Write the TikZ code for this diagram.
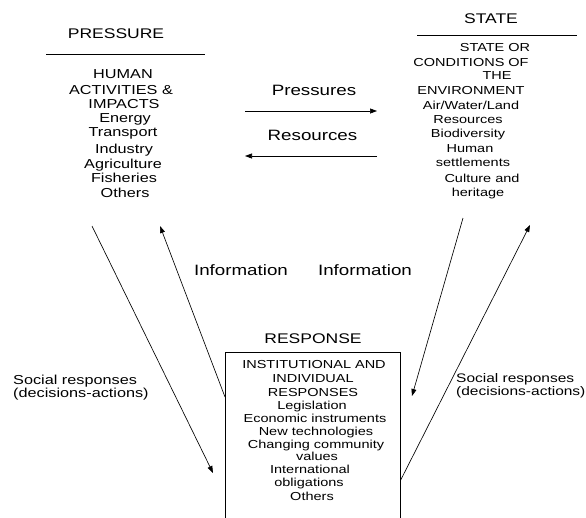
\documentclass[tikz,border=0pt]{standalone}
\usepackage{fontspec}
\setmainfont{Liberation Sans}[FakeStretch=1.25]
\usetikzlibrary{arrows.meta}
\begin{document}
\begin{tikzpicture}[x=1pt,y=-1pt,
  every node/.style={inner sep=0pt, anchor=mid},
  title/.style={font=\fontsize{14}{16}\selectfont},
  blk/.style={font=\fontsize{13}{15}\selectfont},
  sblk/.style={font=\fontsize{11.6}{14}\selectfont},
  lbl/.style={font=\fontsize{15}{17}\selectfont},
  soc/.style={font=\fontsize{13}{13.5}\selectfont, align=left, anchor=west},
  link/.style={line width=0.65pt, -{Triangle[length=7pt,width=5pt]}},
  rule/.style={line width=0.7pt}]
\useasboundingbox (0,0) rectangle (586,517);
\clip (0,0) rectangle (586,517);

% --- titles and their rules
\node[title] (ptitle) at (116,36) {PRESSURE};
\draw[rule] (46,54) -- (205,54);
\node[title] (stitle) at (491,21.3) {STATE};
\draw[rule] (417,35) -- (577,35);
\node[title] (rtitle) at (313,341.3) {RESPONSE};

% --- pressure block
\node[blk] (p1) at (123,76) {HUMAN};
\node[blk] (p2) at (121,92) {ACTIVITIES \&};
\node[blk] (p3) at (124,106) {IMPACTS};
\node[blk] (p4) at (125,119.5) {Energy};
\node[blk] (p5) at (123,134) {Transport};
\node[blk] (p6) at (124,151) {Industry};
\node[blk] (p7) at (123,166) {Agriculture};
\node[blk] (p8) at (124,180) {Fisheries};
\node[blk] (p9) at (125,195) {Others};

% --- state block
\node[sblk] (s1) at (495,49) {STATE OR};
\node[sblk] (s2) at (471,64) {CONDITIONS OF};
\node[sblk] (s3) at (497,77) {THE};
\node[sblk] (s4) at (471,92) {ENVIRONMENT};
\node[sblk] (s5) at (471,107) {Air/Water/Land};
\node[sblk] (s6) at (468,121) {Resources};
\node[sblk] (s7) at (468,135) {Biodiversity};
\node[sblk] (s8) at (470,150) {Human};
\node[sblk] (s9) at (473,164) {settlements};
\node[sblk] (s10) at (482,180) {Culture and};
\node[sblk] (s11) at (478,194) {heritage};

% --- response box (runs off the lower edge)
\node[draw, line width=0.7pt, minimum width=175pt, minimum height=200pt,
      anchor=north west] (resbox) at (225,352) {};
\node[sblk] (r1) at (314,366) {INSTITUTIONAL AND};
\node[sblk] (r2) at (313,380) {INDIVIDUAL};
\node[sblk] (r3) at (313,394) {RESPONSES};
\node[sblk] (r4) at (312,407) {Legislation};
\node[sblk] (r5) at (315,420) {Economic instruments};
\node[sblk] (r6) at (316,433) {New technologies};
\node[sblk] (r7) at (316,445.5) {Changing community};
\node[sblk] (r8) at (317,457.5) {values};
\node[sblk] (r9) at (310,471) {International};
\node[sblk] (r10) at (309,484) {obligations};
\node[sblk] (r11) at (312,498) {Others};

% --- flow labels
\node[lbl] (lpress) at (314,93) {Pressures};
\node[lbl] (lres) at (312.5,138) {Resources};
\node[lbl] (linfo1) at (241,273) {Information};
\node[lbl] (linfo2) at (365,273) {Information};
\node[soc] (lsoc1) at (13,387.5) {Social responses\\(decisions-actions)};
\node[soc, font=\fontsize{12.4}{13.2}\selectfont] (lsoc2) at (456,385.5)
  {Social responses\\(decisions-actions)};

% --- connectors
\coordinate (prA) at (245,111);
\coordinate (prB) at (377,111);
\coordinate (reA) at (377,156);
\coordinate (reB) at (245,156);
\draw[link] (prA) -- (prB);
\draw[link] (reA) -- (reB);

\coordinate (aTop) at (92,226);
\coordinate (aTip) at (213,473);
\draw[link] (aTop) -- (aTip);
\coordinate (bTip) at (160,226);
\draw[link] ([yshift=-45pt]resbox.north west) -- (bTip);
\coordinate (cTop) at (463,218);
\coordinate (cTip) at (412,396);
\draw[link] (cTop) -- (cTip);
\coordinate (dTip) at (530,225);
\draw[link] ([yshift=-128pt]resbox.north east) -- (dTip);
\end{tikzpicture}
\end{document}
